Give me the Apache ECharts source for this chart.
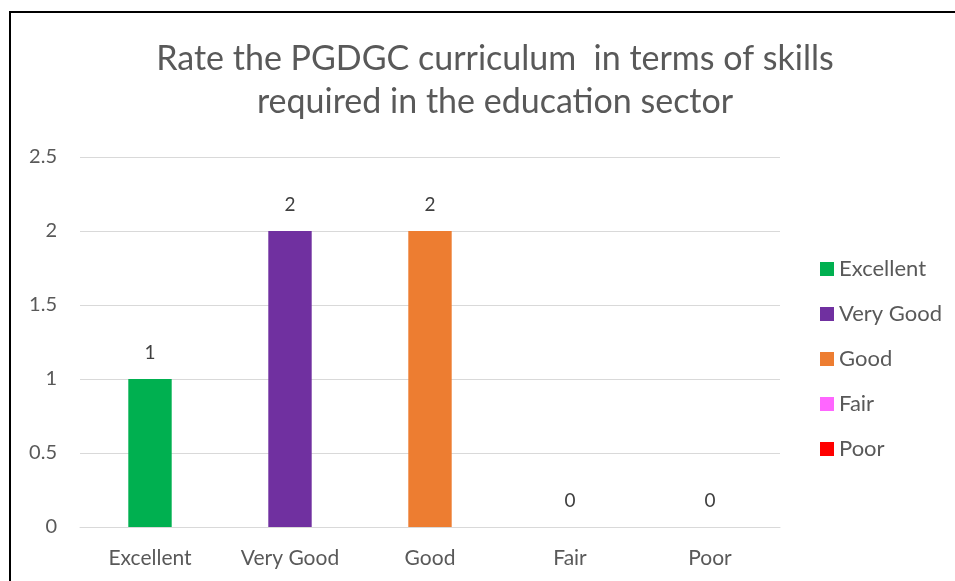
<!DOCTYPE html>
<html>
<head>
<meta charset="utf-8">
<script src="https://cdn.jsdelivr.net/npm/echarts@6/dist/echarts.min.js"></script>
<style>
  html, body { margin: 0; padding: 0; background: #fff; }
  #chart { width: 955px; height: 581px; }
  .frame {
    position: absolute; left: 9px; top: 11px; width: 960px; height: 600px;
    border-left: 2px solid #000; border-top: 2px solid #000; pointer-events: none;
  }
</style>
</head>
<body>
<div id="chart"></div>
<div class="frame"></div>
<script>
const categories = ['Excellent', 'Very Good', 'Good', 'Fair', 'Poor'];
const values = [1, 2, 2, 0, 0];
const colors = ['#00b050', '#7030a0', '#ed7d31', '#ff66ff', '#ff0000'];
const yTicks = [0, 0.5, 1, 1.5, 2, 2.5];

const font = 'Lato, "Open Sans", sans-serif';

// one series per category so the legend lists each rating
const series = categories.map((name, i) => ({
  name: name,
  type: 'bar',
  stack: 'all',
  barWidth: '31%',
  itemStyle: { color: colors[i] },
  label: {
    show: true,
    position: 'top',
    distance: 17,
    color: '#404040',
    fontSize: 19,
    fontFamily: font,
  },
  data: categories.map((c, j) => (j === i ? values[i] : '-')),
}));

const myChart = echarts.init(document.getElementById('chart'));
myChart.setOption({
  animation: false,
  title: {
    text: 'Rate the PGDGC curriculum  in terms of skills\nrequired in the education sector',
    left: 490,
    top: 33,
    textAlign: 'center',
    textStyle: {
      color: '#595959',
      fontSize: 34,
      fontWeight: 'normal',
      fontFamily: font,
      lineHeight: 43,
    },
  },
  legend: {
    orient: 'vertical',
    left: 815,
    top: 253,
    itemWidth: 14,
    itemHeight: 14,
    itemGap: 23,
    icon: 'rect',
    textStyle: { color: '#595959', fontSize: 22, fontFamily: font },
    data: categories,
  },
  grid: { left: 80, right: 175, top: 157, bottom: 54 },
  xAxis: {
    type: 'category',
    data: categories,
    axisLine: { lineStyle: { color: '#d9d9d9' } },
    axisTick: { show: false },
    axisLabel: { color: '#595959', fontSize: 21, fontFamily: font, margin: 21 },
  },
  yAxis: {
    type: 'value',
    min: yTicks[0],
    max: yTicks[yTicks.length - 1],
    interval: 0.5,
    axisLine: { show: false },
    axisTick: { show: false },
    splitLine: { lineStyle: { color: '#d9d9d9' } },
    axisLabel: { color: '#595959', fontSize: 20, fontFamily: font, margin: 23 },
  },
  series: series,
});
</script>
</body>
</html>
